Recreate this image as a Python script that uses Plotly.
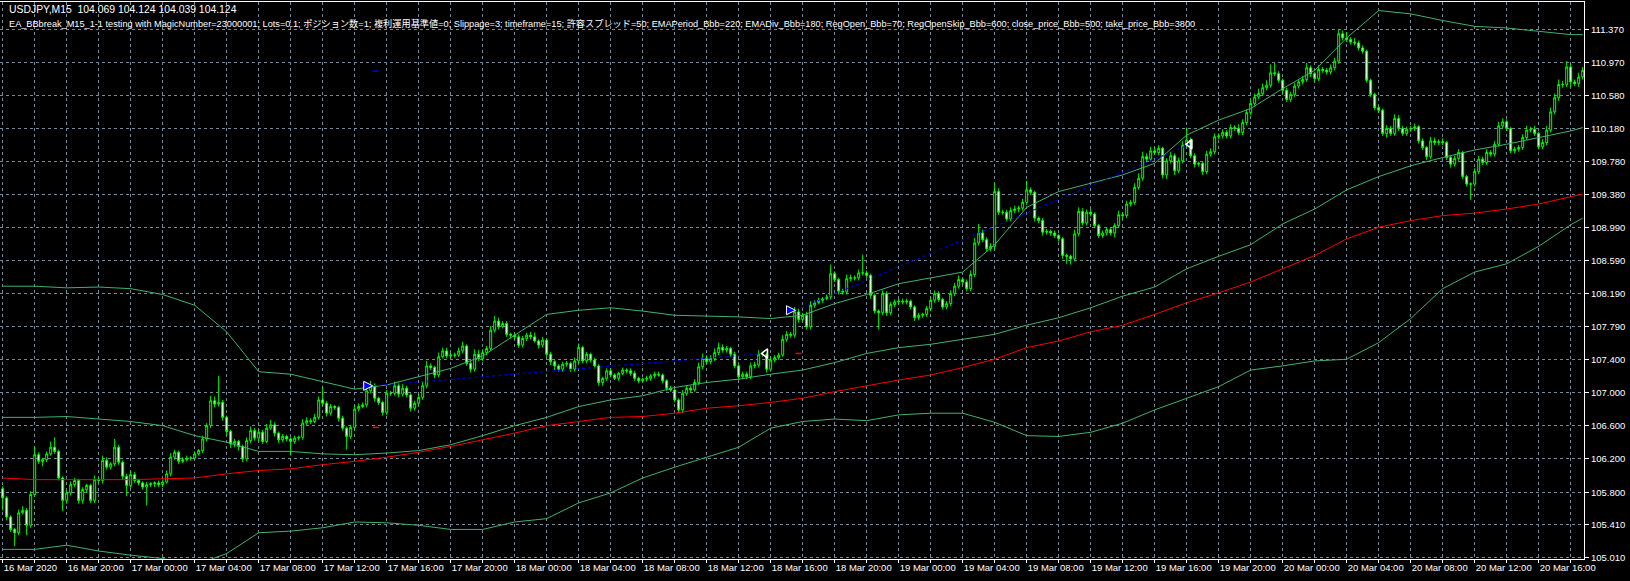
import plotly.graph_objects as go
import pandas as pd

# ---------------- data ----------------
start_time = "2020-03-16 16:00"
first_open = 105.84

closes = [
105.73,105.50,105.35,105.31,105.55,105.58,105.40,105.77,106.25,106.17,106.19,106.26,106.34,106.29,105.97,105.70,105.79,105.89,105.94,105.70,
105.83,105.88,105.70,105.95,105.94,106.18,106.10,106.14,106.34,106.16,105.99,105.88,106.01,105.94,105.91,105.86,105.89,105.90,105.91,105.89,
105.92,106.02,106.22,106.28,106.17,106.19,106.21,106.21,106.26,106.30,106.44,106.60,106.90,106.86,106.88,106.70,106.53,106.38,106.41,106.35,
106.20,106.42,106.54,106.45,106.52,106.41,106.57,106.61,106.51,106.43,106.47,106.44,106.41,106.45,106.46,106.63,106.66,106.65,106.70,106.91,
106.87,106.75,106.83,106.82,106.69,106.57,106.47,106.58,106.80,106.83,106.85,107.02,107.08,106.93,106.88,106.76,106.99,106.99,107.08,106.98,
107.05,106.97,106.81,106.87,106.94,107.08,107.32,107.30,107.21,107.43,107.50,107.44,107.45,107.45,107.50,107.56,107.35,107.28,107.46,107.41,
107.48,107.53,107.75,107.86,107.79,107.83,107.70,107.69,107.67,107.57,107.65,107.69,107.67,107.62,107.57,107.63,107.46,107.37,107.32,107.28,
107.34,107.35,107.28,107.38,107.54,107.38,107.46,107.39,107.32,107.12,107.17,107.26,107.21,107.17,107.23,107.27,107.26,107.23,107.17,107.14,
107.16,107.17,107.20,107.22,107.21,107.14,107.05,107.03,106.91,106.79,106.99,107.05,107.03,107.12,107.31,107.41,107.37,107.41,107.48,107.54,
107.51,107.53,107.46,107.32,107.19,107.22,107.19,107.32,107.33,107.46,107.46,107.28,107.39,107.42,107.45,107.64,107.70,107.69,107.97,107.88,
107.93,107.79,108.05,108.08,108.11,108.13,108.15,108.43,108.36,108.22,108.21,108.37,108.38,108.38,108.44,108.44,108.41,108.17,107.98,107.96,
108.19,107.96,108.06,108.09,108.10,108.09,108.10,108.03,107.90,107.93,107.94,108.01,108.11,108.19,108.12,108.03,108.07,108.19,108.28,108.36,
108.33,108.25,108.42,108.80,108.92,108.84,108.73,108.76,109.42,109.17,109.17,109.09,109.19,109.21,109.22,109.29,109.44,109.41,109.10,109.07,
108.93,108.94,108.92,108.89,108.85,108.65,108.64,108.61,108.91,109.18,109.04,109.17,109.15,109.01,108.89,108.92,108.96,108.92,109.01,109.14,
109.13,109.27,109.29,109.47,109.58,109.84,109.81,109.91,109.89,109.94,109.62,109.79,109.85,109.67,109.79,109.98,110.04,109.85,109.75,109.76,
109.66,109.87,109.90,110.08,110.09,110.13,110.09,110.19,110.18,110.13,110.25,110.37,110.48,110.56,110.60,110.67,110.70,110.85,110.84,110.76,
110.64,110.53,110.59,110.69,110.74,110.77,110.91,110.84,110.78,110.89,110.88,110.86,110.91,110.99,111.32,111.27,111.25,111.22,111.21,111.15,
111.11,110.76,110.59,110.43,110.40,110.12,110.18,110.12,110.30,110.18,110.12,110.17,110.18,110.20,110.03,109.95,109.84,110.03,110.01,110.02,
110.01,109.83,109.75,109.82,109.89,109.60,109.51,109.51,109.66,109.81,109.77,109.89,109.87,109.99,110.21,110.26,110.18,109.91,109.93,109.95,
110.07,110.16,110.17,110.12,109.96,110.01,110.16,110.38,110.55,110.71,110.71,110.92,110.74,110.72,110.80,110.88,
]

# wick lengths above / below the body, in hundredths of a yen
wick_up = [
3,2,2,2,4,5,3,4,10,3,2,3,7,12,2,2,3,4,3,2,
3,2,2,5,3,6,4,2,10,3,2,3,5,3,2,2,3,2,2,3,
3,4,5,3,2,3,3,2,3,2,4,3,6,5,32,3,2,2,3,2,
2,4,5,3,4,3,5,6,3,2,3,2,2,3,2,5,4,3,4,4,
16,3,3,2,2,3,2,3,5,4,3,5,6,3,2,2,4,3,5,4,
5,3,2,3,4,5,6,3,2,5,4,4,3,3,4,5,2,3,6,5,
4,3,5,6,4,3,3,2,2,3,3,3,4,5,2,4,2,3,2,2,
3,3,2,4,5,2,3,2,3,2,2,3,3,2,2,3,2,3,3,2,
2,3,2,3,3,2,2,3,2,2,4,3,3,4,5,6,4,4,5,6,
4,3,2,3,2,3,3,4,4,5,3,2,4,3,3,5,4,3,6,4,
3,4,5,3,3,2,3,11,3,2,3,5,4,3,4,22,3,2,2,2,
4,3,3,3,3,3,3,2,2,3,2,3,4,4,3,2,3,4,4,5,
3,3,5,6,11,4,3,4,10,4,3,3,4,4,3,4,11,3,2,2,
3,3,2,3,2,2,2,2,5,5,4,3,4,2,2,3,3,3,3,5,
3,4,3,5,6,6,4,5,5,4,2,3,5,3,4,5,15,3,3,2,
2,4,4,4,3,4,3,4,3,5,4,4,5,4,6,5,6,10,12,3,
2,3,3,4,3,4,6,3,2,5,3,3,4,4,5,4,7,3,5,3,
3,2,2,2,2,2,4,3,5,4,3,3,3,4,2,3,2,5,4,3,
4,2,2,3,4,2,2,2,4,4,3,4,3,4,5,4,3,2,3,3,
4,5,3,4,2,4,5,5,5,6,4,7,4,3,5,4,
]
wick_down = [
15,4,3,16,3,2,12,3,3,3,6,3,2,3,3,13,4,3,3,4,
4,4,3,3,2,4,3,3,3,3,4,13,3,3,3,3,22,3,4,3,
3,2,3,3,3,2,2,3,2,2,3,3,3,4,3,4,4,5,4,5,
4,3,3,3,4,3,2,2,4,4,3,3,17,3,3,3,2,3,2,3,
3,4,3,3,4,3,16,3,3,3,2,3,3,4,3,4,3,3,3,4,
3,3,4,3,3,3,3,3,4,3,2,3,3,3,2,3,3,4,3,3,
3,3,3,3,3,2,3,4,3,3,3,3,3,2,4,3,3,4,5,3,
3,3,3,3,3,3,3,3,3,4,4,3,3,2,3,2,3,3,3,3,
2,3,3,3,2,3,3,2,3,3,4,3,3,2,3,3,3,3,3,3,
3,3,3,3,4,3,3,3,3,3,3,4,3,3,3,2,3,3,3,4,
3,3,3,3,2,3,2,3,3,4,3,3,3,3,3,3,3,4,3,20,
3,4,3,3,3,3,3,3,4,3,3,3,3,3,3,3,3,3,3,3,
3,3,3,3,3,3,3,3,3,3,3,3,3,3,4,3,3,3,4,3,
4,3,3,3,3,4,9,7,3,3,3,3,3,3,3,3,3,3,5,3,
3,3,3,3,3,3,3,3,3,3,4,5,3,5,3,3,3,3,4,3,
4,3,3,3,3,3,3,3,3,3,3,3,3,3,3,3,3,3,3,3,
4,3,3,3,3,3,3,4,3,3,3,3,3,3,3,3,3,3,3,3,
3,3,3,3,3,3,5,3,3,3,3,3,3,3,3,3,4,3,3,3,
3,3,4,3,3,3,3,19,3,3,3,3,3,3,3,3,3,3,3,3,
3,3,3,3,3,3,3,3,3,4,4,3,6,3,4,3,
]

# indicator lines sampled every 8 bars (bar index)
band_bars = list(range(0, 393, 8)) + [395]
upper_band = [108.28,108.28,108.26,108.27,108.25,108.18,108.05,107.73,107.25,107.22,107.13,107.04,107.09,
              107.19,107.29,107.44,107.69,107.94,107.99,108.02,107.98,107.93,107.92,107.91,107.89,
              107.93,108.07,108.18,108.31,108.38,108.45,108.78,109.23,109.42,109.52,109.62,109.76,110.10,
              110.28,110.42,110.66,110.88,111.27,111.60,111.56,111.48,111.41,111.39,111.35,111.31,
              111.31]
middle_band = [106.70,106.70,106.71,106.68,106.65,106.60,106.48,106.40,106.29,106.29,106.26,106.25,106.27,
               106.30,106.37,106.48,106.60,106.70,106.83,106.91,106.96,107.06,107.12,107.16,107.22,
               107.27,107.36,107.47,107.54,107.58,107.64,107.70,107.81,107.90,108.02,108.16,108.27,108.49,
               108.64,108.78,109.03,109.21,109.44,109.60,109.73,109.83,109.92,109.99,110.07,110.15,
               110.19]
lower_band = [105.11,105.11,105.16,105.09,105.04,105.00,104.92,105.06,105.31,105.33,105.37,105.44,105.43,
              105.40,105.35,105.35,105.44,105.48,105.67,105.79,105.97,106.10,106.22,106.34,106.57,
              106.65,106.68,106.66,106.73,106.75,106.75,106.64,106.48,106.47,106.52,106.63,106.79,106.93,
              107.07,107.27,107.32,107.38,107.40,107.60,107.89,108.25,108.45,108.55,108.76,109.02,
              109.10]
ema_line = [105.97,105.95,105.95,105.95,105.95,105.96,105.97,106.02,106.06,106.08,106.13,106.17,106.22,
            106.28,106.35,106.43,106.51,106.60,106.65,106.70,106.71,106.75,106.81,106.84,106.88,
            106.93,107.01,107.08,107.15,107.21,107.30,107.40,107.54,107.62,107.73,107.81,107.94,108.08,
            108.20,108.33,108.49,108.65,108.85,108.99,109.07,109.13,109.16,109.21,109.27,109.36,
            109.39]

# trades (bar index / price)
trade_open_bar = [92.5, 198.2]
trade_open_price = [107.08, 107.99]
trade_close_bar = [190.7, 296.8]
trade_close_price = [107.47, 109.99]
sl_price = [106.58, 107.47]
tp_price = [110.87, 111.77]

y_tick_labels = ["111.370", "110.970", "110.580", "110.180", "109.780", "109.380", "108.990",
                 "108.590", "108.190", "107.790", "107.400", "107.000", "106.600", "106.200",
                 "105.800", "105.410", "105.010"]

header1 = "USDJPY,M15&nbsp;&nbsp;104.069 104.124 104.039 104.124"
header2 = ("EA_BBbreak_M15_1-1 testing with MagicNumber=23000001; Lots=0.1; ポジション数=1; "
           "複利運用基準値=0; Slippage=3; timeframe=15; 許容スプレッド=50; EMAPeriod_Bbb=220; "
           "EMADiv_Bbb=180; RegOpen_Bbb=70; RegOpenSkip_Bbb=600; close_price_Bbb=500; take_price_Bbb=3800")

# ---------------- build ----------------
n = len(closes)
opens = [first_open] + closes[:-1]
highs = [max(o, c) + u / 100 for o, c, u in zip(opens, closes, wick_up)]
lows = [min(o, c) - d / 100 for o, c, d in zip(opens, closes, wick_down)]
bars = list(range(n))
times = pd.date_range(start_time, periods=n, freq="15min")

major_vals, major_text, minor_vals = [], [], []
for i, t in enumerate(times):
    if t.minute == 0 and t.hour % 2 == 0:
        minor_vals.append(i)
    if i == 0:
        major_vals.append(i)
        major_text.append(t.strftime("%d %b %Y"))
    elif t.minute == 0 and t.hour % 4 == 0:
        major_vals.append(i)
        major_text.append(t.strftime("%d %b %H:%M"))

GRID = "#778899"
GREEN = "#3CB371"
FONT = "Liberation Sans, Arial, Noto Sans CJK JP, sans-serif"
Y_MIN, Y_MAX = 104.994, 111.703
PLOT_W, PLOT_H = 1584, 557

fig = go.Figure()

for vals in (upper_band, middle_band, lower_band):
    fig.add_trace(go.Scatter(x=band_bars, y=vals, mode="lines",
                             line=dict(color=GREEN, width=1), hoverinfo="skip"))
fig.add_trace(go.Scatter(x=band_bars, y=ema_line, mode="lines",
                         line=dict(color="#FF0000", width=1), hoverinfo="skip"))

for k in range(len(trade_open_bar)):
    fig.add_trace(go.Scatter(x=[trade_open_bar[k], trade_close_bar[k]],
                             y=[trade_open_price[k], trade_close_price[k]], mode="lines",
                             line=dict(color="#0000FF", width=1, dash="3px,3px"), hoverinfo="skip"))
    fig.add_trace(go.Scatter(x=[trade_open_bar[k], trade_open_bar[k] + 1.5],
                             y=[sl_price[k], sl_price[k]], mode="lines",
                             line=dict(color="#FF0000", width=1.5), hoverinfo="skip"))
    fig.add_trace(go.Scatter(x=[trade_open_bar[k], trade_open_bar[k] + 1.5],
                             y=[tp_price[k], tp_price[k]], mode="lines",
                             line=dict(color="#0000FF", width=1.5), hoverinfo="skip"))

fig.add_trace(go.Candlestick(
    x=bars, open=opens, high=highs, low=lows, close=closes,
    increasing=dict(line=dict(color="#00FF00", width=1), fillcolor="#000000"),
    decreasing=dict(line=dict(color="#00FF00", width=1), fillcolor="#FFFFFF"),
    whiskerwidth=0, hoverinfo="skip"))

fig.add_trace(go.Scatter(x=trade_open_bar, y=trade_open_price, mode="markers",
                         marker=dict(symbol="arrow-right", size=9, color="#0000FF",
                                     line=dict(color="#FFFFFF", width=1)), hoverinfo="skip"))
fig.add_trace(go.Scatter(x=trade_close_bar, y=trade_close_price, mode="markers",
                         marker=dict(symbol="triangle-left-open", size=8, color="#FFFFFF",
                                     line=dict(color="#FFFFFF", width=1.5)), hoverinfo="skip"))

fig.update_layout(
    width=1630, height=581,
    margin=dict(l=0, r=46, t=2, b=22, autoexpand=False),
    paper_bgcolor="#000000", plot_bgcolor="#000000",
    showlegend=False,
    font=dict(family=FONT, size=9, color="#FFFFFF"),
    xaxis=dict(range=[-0.675, 395.325], rangeslider=dict(visible=False), automargin=False,
               tickmode="array", tickvals=major_vals, ticktext=major_text, tickangle=0,
               ticklabelposition="outside right", ticks="outside", ticklen=3, tickcolor="#FFFFFF",
               showgrid=True, gridcolor=GRID, griddash="3px,3px", gridwidth=1,
               minor=dict(tickvals=minor_vals, showgrid=True, gridcolor=GRID, griddash="3px,3px",
                          ticks="outside", ticklen=3, tickcolor="#FFFFFF"),
               showline=True, linecolor="#FFFFFF", linewidth=1, mirror=True,
               zeroline=False, tickfont=dict(family=FONT, size=9.5, color="#FFFFFF")),
    yaxis=dict(range=[Y_MIN, Y_MAX], side="right", automargin=False,
               tickmode="array", tickvals=[float(v) for v in y_tick_labels], showticklabels=False,
               ticks="outside", ticklen=4, tickcolor="#FFFFFF",
               showgrid=True, gridcolor=GRID, griddash="3px,3px", gridwidth=1,
               showline=True, linecolor="#FFFFFF", linewidth=1, mirror=True,
               zeroline=False),
)

# price labels on the right side
for lab in y_tick_labels:
    fig.add_annotation(xref="paper", yref="y", x=1 + 5 / PLOT_W, y=float(lab), xanchor="left",
                       yanchor="middle", text=lab, showarrow=False,
                       font=dict(family=FONT, size=9.5, color="#FFFFFF"))

fig.add_annotation(xref="paper", yref="paper", x=0.0044, y=1 - 8 / PLOT_H, xanchor="left", yanchor="middle",
                   text=header1, showarrow=False, font=dict(family=FONT, size=10.4, color="#FFFFFF"))
fig.add_annotation(xref="paper", yref="paper", x=0.0044, y=1 - 21.7 / PLOT_H, xanchor="left", yanchor="middle",
                   text=header2, showarrow=False, font=dict(family=FONT, size=9.2, color="#FFFFFF"))

fig.write_html("out.html", config={"displayModeBar": False},
               post_script="document.body.style.margin='0';")
